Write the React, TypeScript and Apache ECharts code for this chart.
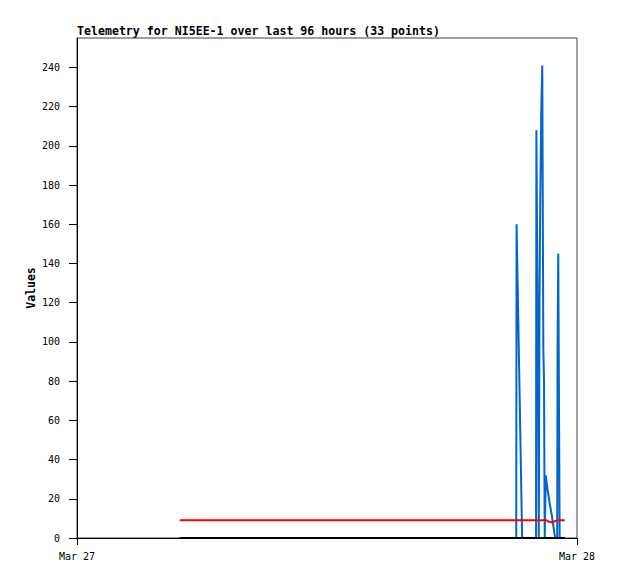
import React, { useEffect, useRef } from "react";
import * as echarts from "echarts";

// Time in minutes after Mar 27 00:00
const titleText = "Telemetry for NI5EE-1 over last 96 hours (33 points)";
const yAxisName = "Values";

const blueTimes = [296, 1265, 1266, 1282, 1322, 1323, 1327, 1330, 1332, 1334, 1337, 1340, 1343, 1345, 1347, 1350, 1355, 1361, 1367, 1372, 1377, 1383, 1384, 1386, 1390];
const blueValues = [0, 0, 160, 0, 0, 208, 104, 0, 121, 169, 217, 241, 97, 80, 0, 32, 25, 18, 12, 6, 0, 0, 97, 145, 0];

const redTimes = [296, 1352, 1358, 1364, 1370, 1376, 1383, 1405];
const redValues = [9, 9, 8.4, 8.2, 7.9, 8.6, 9, 9];

const blackTimes = [296, 1405];
const blackValues = [0, 0];

const xTickValues = [0, 1440];
const xTickLabels = ["Mar 27", "Mar 28"];
const yTickValues = [0, 20, 40, 60, 80, 100, 120, 140, 160, 180, 200, 220, 240];

const zip = (t: number[], v: number[]) => t.map((x, i) => [x, v[i]]);

export default function App() {
  const ref = useRef<HTMLDivElement>(null);
  useEffect(() => {
    if (!ref.current) return;
    const chart = echarts.init(ref.current, null, { renderer: "svg" });
    const mono = "'DejaVu Sans Mono', 'Liberation Mono', monospace";
    chart.setOption({
      animation: false,
      backgroundColor: "#ffffff",
      title: {
        text: titleText,
        left: 77,
        top: 25,
        padding: 0,
        textStyle: { fontFamily: mono, fontSize: 11.6, fontWeight: "bold", color: "#000" },
      },
      grid: {
        left: 77,
        top: 38,
        right: 41,
        bottom: 41,
        show: true,
        borderColor: "#404040",
        borderWidth: 1,
        backgroundColor: "transparent",
      },
      xAxis: {
        type: "value",
        min: 0,
        max: 1440,
        interval: 1440,
        axisLine: { show: true, lineStyle: { color: "#000", width: 1 } },
        axisTick: { show: true, length: 7, customValues: xTickValues, lineStyle: { color: "#000" } },
        axisLabel: {
          customValues: xTickValues,
          margin: 13,
          fontFamily: mono,
          fontSize: 10,
          color: "#000",
          formatter: (v: number) => xTickLabels[xTickValues.indexOf(v)] ?? "",
        },
        splitLine: { show: false },
      },
      yAxis: {
        type: "value",
        min: 0,
        max: 255,
        interval: 20,
        name: yAxisName,
        nameLocation: "middle",
        nameGap: 40,
        nameMoveOverlap: false,
        nameTextStyle: { fontFamily: mono, fontSize: 11.5, fontWeight: "bold", color: "#000" },
        axisLine: { show: true, lineStyle: { color: "#000", width: 1 } },
        axisTick: { show: true, length: 8, customValues: yTickValues, lineStyle: { color: "#000" } },
        axisLabel: {
          customValues: yTickValues,
          margin: 17,
          fontFamily: mono,
          fontSize: 10,
          color: "#000",
        },
        splitLine: { show: false },
      },
      series: [
        {
          type: "line",
          data: zip(blueTimes, blueValues),
          showSymbol: false,
          lineStyle: { color: "#0066cc", width: 2 },
          z: 2,
        },
        {
          type: "line",
          data: zip(redTimes, redValues),
          showSymbol: false,
          lineStyle: { color: "#ff0000", width: 2 },
          z: 3,
        },
        {
          type: "line",
          data: zip(blackTimes, blackValues),
          showSymbol: false,
          lineStyle: { color: "#000000", width: 2 },
          z: 4,
        },
      ],
    });
    return () => chart.dispose();
  }, []);
  return (
    <div
      ref={ref}
      style={{ position: "fixed", left: 0, top: 0, width: 618, height: 579, background: "#fff" }}
    />
  );
}
